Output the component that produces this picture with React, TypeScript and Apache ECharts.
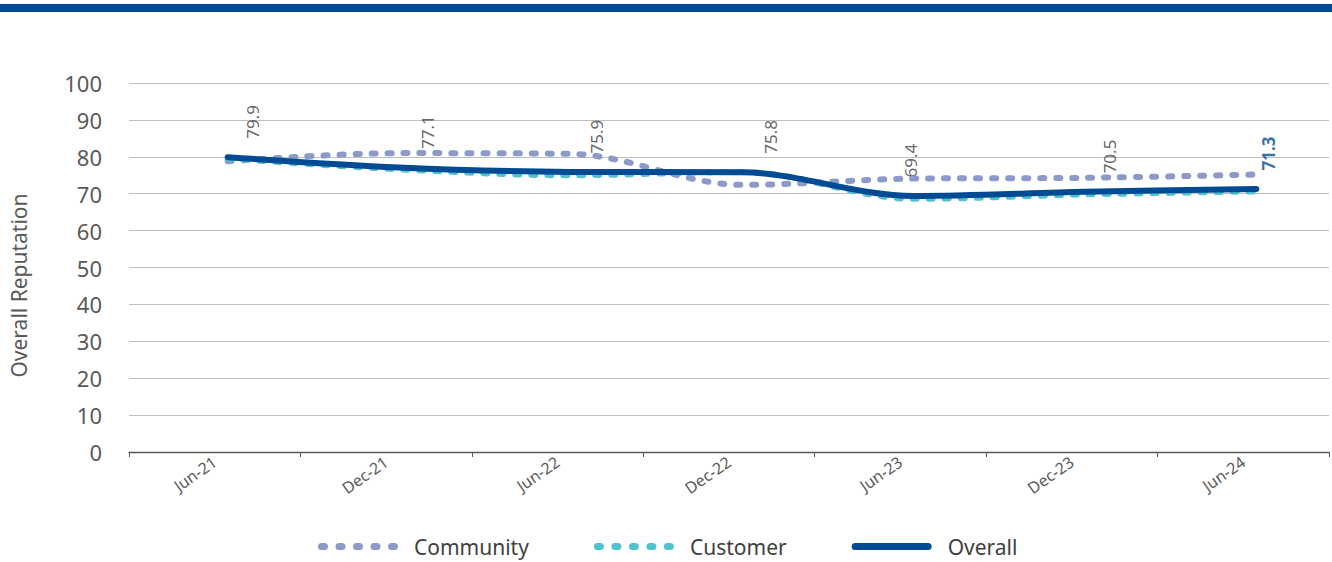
import React, { useEffect, useRef } from 'react';
import * as echarts from 'echarts';

// Survey periods and reputation scores
const categories = ['Jun-21', 'Dec-21', 'Jun-22', 'Dec-22', 'Jun-23', 'Dec-23', 'Jun-24'];
const communityScores = [78.8, 81.0, 80.8, 72.4, 74.1, 74.3, 75.2];
const customerScores = [79.5, 76.6, 75.0, 75.9, 68.6, 69.8, 70.6];
const overallScores = [79.9, 77.1, 75.9, 75.8, 69.4, 70.5, 71.3];

// Sideways nudge (px) for each rotated Overall value label
const labelShift = [25, 28, 26, 28, -3, 25, 12];

const FONT = '"Noto Sans", "Open Sans", sans-serif';
const TEXT = '#595959';
const LABEL = '#404040';
const NAVY = '#004B93';
const LAVENDER = '#8B9AC8';
const TEAL = '#4FC4D0';

// Legend keys: a row of rounded dots, and a rounded solid bar
const capsule = (x0: number, len: number, h: number) => {
  const r = h / 2;
  return `M${x0 + r} 0H${x0 + len - r}A${r} ${r} 0 0 1 ${x0 + len - r} ${h}H${x0 + r}A${r} ${r} 0 0 1 ${x0 + r} 0Z`;
};
const dottedKey = 'path://' + [0, 17.5, 35, 52.5, 70].map((x) => capsule(x, 10, 7)).join('');
const solidKey = 'path://' + capsule(0, 80, 7);

export default function App() {
  const ref = useRef<HTMLDivElement>(null);

  useEffect(() => {
    if (!ref.current) return;
    const chart = echarts.init(ref.current, undefined, { renderer: 'svg' });
    const last = overallScores.length - 1;

    chart.setOption({
      animation: false,
      textStyle: { fontFamily: FONT },
      graphic: [
        {
          type: 'rect',
          silent: true,
          shape: { x: 0, y: 4, width: 1332, height: 8 },
          style: { fill: NAVY },
        },
      ],
      grid: [
        { left: 129, right: 3, top: 83, bottom: 110, outerBoundsMode: 'none', containLabel: false },
        { left: 142, width: 1200, top: 83, bottom: 110, outerBoundsMode: 'none', containLabel: false },
      ],
      xAxis: [
        {
          type: 'category',
          gridIndex: 0,
          data: categories,
          boundaryGap: true,
          axisLine: { lineStyle: { color: '#595959', width: 1.3 } },
          axisTick: { show: true, alignWithLabel: false, length: 5, lineStyle: { color: '#595959' } },
          axisLabel: { rotate: 35, color: TEXT, fontSize: 16, fontFamily: FONT, margin: 8 },
        },
        { type: 'category', gridIndex: 1, data: categories, boundaryGap: true, show: false },
      ],
      yAxis: [
        {
          type: 'value',
          gridIndex: 0,
          min: 0,
          max: 100,
          interval: 10,
          axisLine: { show: false },
          axisTick: { show: false },
          splitLine: { lineStyle: { color: '#BFBFBF', width: 1 } },
          axisLabel: { color: TEXT, fontSize: 22, fontFamily: FONT, margin: 27 },
          name: 'Overall Reputation',
          nameLocation: 'middle',
          nameGap: 100,
          nameTextStyle: { color: TEXT, fontSize: 21, fontFamily: FONT, padding: [0, 36, 0, 0] },
        },
        { type: 'value', gridIndex: 1, min: 0, max: 100, interval: 10, show: false },
      ],
      legend: {
        data: [
          { name: 'Community', icon: dottedKey, itemStyle: { color: LAVENDER } },
          { name: 'Customer', icon: dottedKey, itemStyle: { color: TEAL } },
          { name: 'Overall', icon: solidKey, itemStyle: { color: NAVY } },
        ],
        left: 313,
        top: 531,
        itemWidth: 80,
        itemHeight: 7,
        itemGap: 65,
        textStyle: { fontSize: 21, color: LABEL, fontFamily: FONT, padding: [0, 0, 0, 11] },
      },
      series: [
        {
          name: 'Community',
          type: 'line',
          xAxisIndex: 1,
          yAxisIndex: 1,
          data: communityScores,
          smooth: 0.33,
          symbol: 'none',
          lineStyle: { color: LAVENDER, width: 6, type: [4, 12], cap: 'round' },
          itemStyle: { color: LAVENDER },
        },
        {
          name: 'Customer',
          type: 'line',
          xAxisIndex: 1,
          yAxisIndex: 1,
          data: customerScores,
          smooth: 0.33,
          symbol: 'none',
          lineStyle: { color: TEAL, width: 6, type: [4, 12], cap: 'round' },
          itemStyle: { color: TEAL },
        },
        {
          name: 'Overall',
          type: 'line',
          xAxisIndex: 1,
          yAxisIndex: 1,
          data: overallScores,
          smooth: 0.33,
          symbol: 'none',
          lineStyle: { color: NAVY, width: 6, cap: 'round' },
          itemStyle: { color: NAVY },
        },
        {
          name: 'Overall values',
          type: 'scatter',
          xAxisIndex: 1,
          yAxisIndex: 1,
          symbolSize: 1,
          itemStyle: { color: 'transparent' },
          silent: true,
          label: {
            show: true,
            position: 'top',
            distance: 18,
            rotate: 90,
            align: 'left',
            verticalAlign: 'middle',
            fontSize: 17,
            fontFamily: FONT,
            color: LABEL,
            formatter: (p: any) => Number(p.value).toFixed(1),
          },
          data: overallScores.map((v, i) => ({
            value: v,
            label: {
              offset: [0, labelShift[i]],
              color: i === last ? NAVY : LABEL,
              fontWeight: i === last ? 'bold' : 'normal',
            },
          })),
        },
      ],
    });

    return () => chart.dispose();
  }, []);

  return (
    <div
      ref={ref}
      style={{ position: 'fixed', left: 0, top: 0, width: 1332, height: 562, background: '#fff' }}
    />
  );
}
